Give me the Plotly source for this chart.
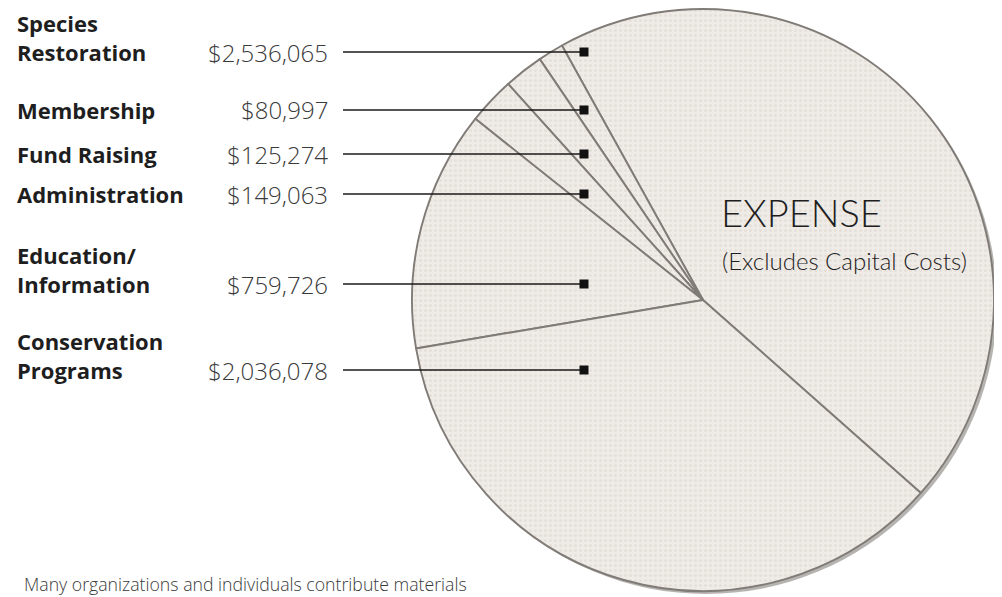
import plotly.graph_objects as go

# ---- data ----
categories = ["Species Restoration", "Membership", "Fund Raising",
              "Administration", "Education/Information", "Conservation Programs"]
label_lines = [["Species", "Restoration"], ["Membership"], ["Fund Raising"],
               ["Administration"], ["Education/", "Information"], ["Conservation", "Programs"]]
values = [2536065, 80997, 125274, 149063, 759726, 2036078]

title_main = "EXPENSE"
title_sub = "(Excludes Capital Costs)"
footer = "Many organizations and individuals contribute materials"

# ---- layout (pixel positions in the 1002x597 window) ----
OFF = 8  # default page margin of the html body
W, H = 1002 - OFF, 597 - OFF
row_y = [52, 110, 154, 194, 284, 370]
line_gap = 29


def px(x):
    return (x - OFF) / W


def py(y):
    return 1 - (y - OFF) / H


cx, cy, r = 703, 300, 291
dom_x = [px(cx - r), px(cx + r)]
dom_y = [py(cy + r), py(cy - r)]
sh = 3
shadow_dom_x = [px(cx - r + sh), px(cx + r + sh)]
shadow_dom_y = [py(cy + r + sh), py(cy - r + sh)]

fig = go.Figure()
# soft shadow under the paper disc
fig.add_trace(go.Pie(values=[1], labels=["shadow"], domain=dict(x=shadow_dom_x, y=shadow_dom_y),
                     marker=dict(colors=["rgba(110,105,100,0.5)"], line=dict(width=0)),
                     textinfo="none", hoverinfo="skip", showlegend=False, sort=False))
fig.add_trace(go.Pie(
    labels=categories, values=values, sort=False, direction="counterclockwise", rotation=-29,
    domain=dict(x=dom_x, y=dom_y),
    marker=dict(colors=["#efebe7"] * len(values), line=dict(color="#807b76", width=1.9),
                pattern=dict(shape=".", fillmode="overlay", fgcolor="#e0dad4",
                             fgopacity=0.7, size=5, solidity=0.3)),
    textinfo="none", hoverinfo="label+value", showlegend=False,
))

shapes = []
annotations = []
label_font = dict(family="Open Sans", size=22, color="#1e1e1e", weight=700)
value_font = dict(family="Open Sans", size=24, color="#3a3a3a", weight=300)
for lines, v, y in zip(label_lines, values, row_y):
    n = len(lines)
    for i, t in enumerate(lines):
        annotations.append(dict(text=t, x=px(15), y=py(y - (n - 1 - i) * line_gap),
                                xref="paper", yref="paper", xanchor="left", yanchor="middle",
                                showarrow=False, font=label_font))
    annotations.append(dict(text=f"${v:,}", x=px(330), y=py(y), xref="paper", yref="paper",
                            xanchor="right", yanchor="middle", showarrow=False, font=value_font))
    shapes.append(dict(type="line", xref="paper", yref="paper", x0=px(343), x1=px(584),
                       y0=py(y), y1=py(y), line=dict(color="#1a1a1a", width=1.3)))
    shapes.append(dict(type="rect", xref="paper", yref="paper", x0=px(579.5), x1=px(588.5),
                       y0=py(y + 4.5), y1=py(y - 4.5), fillcolor="#111111", line=dict(width=0)))

annotations.append(dict(text=title_main, x=px(719), y=py(212), xref="paper", yref="paper",
                        xanchor="left", yanchor="middle", showarrow=False,
                        font=dict(family="Lato", size=38, color="#1e1e1e", weight=300)))
annotations.append(dict(text=title_sub, x=px(720), y=py(260), xref="paper", yref="paper",
                        xanchor="left", yanchor="middle", showarrow=False,
                        font=dict(family="Lato", size=24, color="#1e1e1e", weight=300)))
annotations.append(dict(text=footer, x=px(22), y=py(584), xref="paper", yref="paper",
                        xanchor="left", yanchor="middle", showarrow=False,
                        font=dict(family="Open Sans", size=17.7, color="#3a3a3a", weight=300)))

fig.update_layout(width=W, height=H, margin=dict(l=0, r=0, t=0, b=0),
                  paper_bgcolor="white", plot_bgcolor="white",
                  shapes=shapes, annotations=annotations)

fig.write_html("out.html")
